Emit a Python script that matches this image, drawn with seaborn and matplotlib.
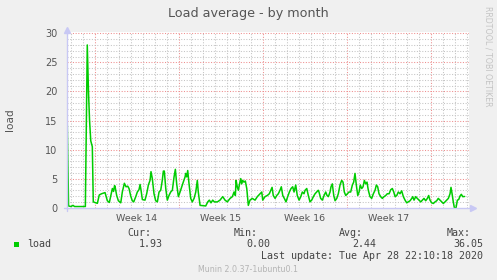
import matplotlib
matplotlib.use("Agg")
import matplotlib.pyplot as plt
from matplotlib.patches import Rectangle
import seaborn as sns
import pandas as pd

# ---- data (days since Monday of Week 14, load average) ----
days = [
    -2.31, -2.18, -1.98, -1.81, -1.68, -1.23, -0.78, -0.62, -0.52, -0.43,
    -0.33, -0.20, -0.12, 0.22, 0.38, 0.57, 0.72, 0.86, 1.05, 1.22,
    1.36, 1.47, 1.57, 1.65, 1.69, 1.83, 1.97, 2.17, 2.30, 2.47,
    2.61, 2.75, 2.86, 3.00, 3.13, 3.25, 3.42, 3.55, 3.69, 3.78,
    3.86, 3.97, 4.19, 4.33, 4.47, 4.61, 4.69, 4.80, 4.94, 5.08,
    5.22, 5.36, 5.50, 5.63, 5.72, 5.80, 5.92, 6.05, 6.19, 6.33,
    6.47, 6.61, 6.72, 6.83, 6.97, 7.11, 7.25, 7.38, 7.53, 7.58,
    7.67, 7.75, 7.86, 8.00, 8.13, 8.28, 8.42, 8.55, 8.63, 8.78,
    9.25, 9.42, 9.55, 9.69, 9.83, 9.97, 10.22, 10.44, 10.67, 10.86,
    11.05, 11.28, 11.47, 11.61, 11.72, 11.78, 11.88, 11.97, 12.05, 12.17,
    12.25, 12.33, 12.44, 12.55, 12.67, 12.80, 12.94, 13.13, 13.36, 13.55,
    13.78, 13.92, 14.00, 14.19, 14.38, 14.55, 14.69, 14.78, 14.88, 15.03,
    15.17, 15.30, 15.44, 15.55, 15.67, 15.80, 15.94, 16.08, 16.22, 16.36,
    16.50, 16.61, 16.75, 16.88, 17.03, 17.17, 17.30, 17.44, 17.53, 17.67,
    17.80, 17.94, 18.08, 18.22, 18.36, 18.50, 18.63, 18.69, 18.83, 18.97,
    19.11, 19.25, 19.36, 19.47, 19.61, 19.69, 19.80, 19.92, 20.03, 20.17,
    20.30, 20.44, 20.58, 20.69, 20.80, 20.92, 21.05, 21.19, 21.33, 21.47,
    21.58, 21.69, 21.80, 21.92, 22.03, 22.13, 22.25, 22.36, 22.47, 22.58,
    22.69, 22.80, 22.94, 23.08, 23.22, 23.36, 23.47, 23.58, 23.69, 23.83,
    23.97, 24.11, 24.25, 24.38, 24.53, 24.67, 24.80, 24.92, 25.03, 25.17,
    25.30, 25.44, 25.58, 25.72, 25.86, 26.00, 26.13, 26.28, 26.42, 26.50,
    26.61, 26.75, 26.88, 27.03, 27.17, 27.30, 27.44, 27.58, 27.72, 27.83,
    27.94, 28.08, 28.22, 28.36, 28.50, 28.63, 28.78, 28.92, 29.05, 29.19,
    29.33, 29.47, 29.61, 29.69, 29.78, 29.88, 29.97, 30.11, 30.22, 30.33,
    30.44, 30.55, 30.67, 30.82,
]
load = [
    17.4, 0.3, 0.2, 0.4, 0.2, 0.2, 0.2, 28.0, 20.0, 15.0,
    11.5, 10.5, 1.0, 0.75, 2.2, 2.4, 2.5, 2.6, 1.2, 0.9,
    2.2, 3.3, 2.8, 3.8, 3.7, 2.1, 1.2, 0.84, 2.7, 4.2,
    3.6, 3.7, 3.3, 2.0, 1.2, 1.0, 1.9, 2.7, 3.1, 4.0,
    3.0, 1.4, 1.3, 2.4, 3.9, 4.7, 6.2, 5.0, 2.4, 1.2,
    1.0, 2.7, 3.0, 4.7, 6.3, 6.3, 3.3, 1.3, 2.1, 2.7,
    3.0, 5.3, 6.6, 4.1, 1.9, 2.7, 3.6, 4.4, 5.3, 5.9,
    5.3, 6.4, 4.1, 1.6, 1.0, 1.6, 2.7, 4.7, 2.7, 0.4,
    0.3, 1.0, 1.3, 0.84, 1.3, 1.0, 1.0, 1.3, 1.9, 1.3,
    1.0, 1.6, 1.9, 2.7, 2.1, 4.7, 3.6, 3.0, 3.9, 5.0,
    4.1, 4.7, 4.4, 4.6, 3.3, 0.4, 1.3, 1.6, 1.3, 1.9,
    2.4, 2.7, 1.3, 1.9, 2.1, 2.4, 3.1, 3.5, 2.1, 1.6,
    2.1, 2.4, 3.0, 3.6, 2.1, 1.6, 1.0, 1.9, 2.7, 3.3,
    3.6, 2.7, 3.9, 2.1, 1.3, 1.9, 2.7, 2.4, 3.0, 3.3,
    2.1, 1.0, 1.3, 1.9, 2.4, 2.7, 3.0, 2.7, 1.6, 1.3,
    2.1, 2.7, 2.1, 1.9, 2.7, 3.6, 4.1, 2.1, 1.2, 1.6,
    2.4, 3.9, 4.7, 4.4, 2.7, 2.1, 2.4, 2.7, 2.7, 3.9,
    4.4, 5.9, 3.9, 2.1, 2.7, 3.9, 3.3, 3.6, 4.7, 4.1,
    4.4, 3.0, 1.9, 1.6, 2.4, 3.0, 3.9, 3.6, 2.4, 1.9,
    1.6, 1.9, 2.1, 2.4, 2.4, 3.1, 3.3, 2.7, 1.9, 2.1,
    2.7, 2.4, 2.9, 1.9, 1.3, 0.84, 1.0, 1.2, 1.6, 1.9,
    1.3, 1.9, 1.6, 1.3, 1.0, 1.3, 1.6, 1.2, 1.6, 2.1,
    1.3, 0.84, 0.73, 1.0, 1.2, 1.6, 1.3, 1.0, 0.73, 1.0,
    1.3, 1.6, 2.4, 3.5, 2.4, 1.0, 0.0, 0.0, 1.3, 1.4,
    2.0, 2.3, 1.9, 1.93,
]
week_labels = ["Week 14", "Week 15", "Week 16", "Week 17"]
y_ticks = [0, 5, 10, 15, 20, 25, 30]
series_name = "load"
stat_names = ["Cur:", "Min:", "Avg:", "Max:"]
stat_values = ["1.93", "0.00", "2.44", "36.05"]
title = "Load average - by month"
last_update = "Last update: Tue Apr 28 22:10:18 2020"
footer = "Munin 2.0.37-1ubuntu0.1"
watermark = "RRDTOOL / TOBI OETIKER"

df = pd.DataFrame({"day": days, "load": load})

# ---- figure ----
sns.set_theme(style="white")
plt.rcParams["font.family"] = ["DejaVu Sans"]
W, H = 497, 280
fig = plt.figure(figsize=(W / 100, H / 100), dpi=100)
fig.patch.set_facecolor("#F0F0F0")

def fx(px):
    return px / W

def fy(py):
    return 1 - py / H

ax_left, ax_right, ax_top, ax_bot = 67, 469, 31.7, 207.7
ax = fig.add_axes([fx(ax_left), fy(ax_bot), (ax_right - ax_left) / W, (ax_bot - ax_top) / H])
ax.set_facecolor("white")

xmin, xmax = -2.31, 31.19
ymin, ymax = 0, 30.28
ax.set_xlim(xmin, xmax)
ax.set_ylim(ymin, ymax)

# grid (minor: daily / unit, major: weekly / 5 units)
minor_c, major_c = "#C4C4C4", "#EE8E8E"
dots = (0, (1, 1.6))
d = int(xmin) - 1
while d <= xmax:
    if xmin < d < xmax:
        ax.axvline(d, color=major_c if d % 7 == 0 else minor_c, lw=0.75, ls=dots, zorder=0)
    d += 1
for yv in range(1, 31):
    ax.axhline(yv, color=major_c if yv % 5 == 0 else minor_c, lw=0.75, ls=dots, zorder=0)

sns.lineplot(data=df, x="day", y="load", color="#00CC00", linewidth=1.1, ax=ax, zorder=3,
             sort=True, estimator=None)

for s in ax.spines.values():
    s.set_visible(False)

# axis lines with arrows
axis_c = "#C8C8F4"
ax.plot([-0.008, 1.008], [0, 0], transform=ax.transAxes, color=axis_c, lw=1.0, clip_on=False, zorder=4)
ax.plot([1.01], [0], marker=">", ms=4.5, color=axis_c, transform=ax.transAxes, clip_on=False, zorder=4)
ax.plot([0, 0], [-0.02, 1.0], transform=ax.transAxes, color=axis_c, lw=1.0, clip_on=False, zorder=4)
ax.plot([0], [1.01], marker="^", ms=4.5, color=axis_c, transform=ax.transAxes, clip_on=False, zorder=4)

ax.set_xticks([])
ax.set_yticks(y_ticks)
ax.set_yticklabels([str(v) for v in y_ticks])
ax.tick_params(axis="y", length=0, pad=7, labelsize=7, labelcolor="#555555")
ax.set_xlabel("")
ax.set_ylabel("")

for i, wl in enumerate(week_labels):
    ax.text(3.5 + 7 * i, -0.035, wl, transform=ax.get_xaxis_transform(), ha="center", va="top",
            fontsize=6.8, color="#555555")

fig.text(fx(9.5), fy(120), series_name, rotation=90, ha="center", va="center", fontsize=7.6, color="#555555")
fig.text(fx(248.5), fy(13), title, ha="center", va="center", fontsize=9.2, color="#555555")
fig.text(fx(488), fy(56), watermark, rotation=270, ha="center", va="center", fontsize=5.7, color="#C4C4C4")

mono = "DejaVu Sans Mono"
tc = "#444444"
fig.patches.append(Rectangle((fx(14), fy(247)), 5 / W, 5 / H, transform=fig.transFigure,
                             facecolor="#00CC00", edgecolor="none"))
fig.text(fx(27), fy(244.3), series_name, family=mono, fontsize=7.2, color=tc, ha="left", va="center")
head_x = [151, 258, 363, 471]
val_x = [163, 270, 376, 483]
for n, v, hx, vx in zip(stat_names, stat_values, head_x, val_x):
    fig.text(fx(hx), fy(233.3), n, family=mono, fontsize=7.2, color=tc, ha="right", va="center")
    fig.text(fx(vx), fy(244.3), v, family=mono, fontsize=7.2, color=tc, ha="right", va="center")
fig.text(fx(483), fy(255.7), last_update, family=mono, fontsize=7.2, color=tc, ha="right", va="center")
fig.text(fx(248), fy(269.3), footer, fontsize=5.7, color="#B4B4B4", ha="center", va="center")

fig.savefig("out.png", dpi=100, facecolor=fig.get_facecolor())
